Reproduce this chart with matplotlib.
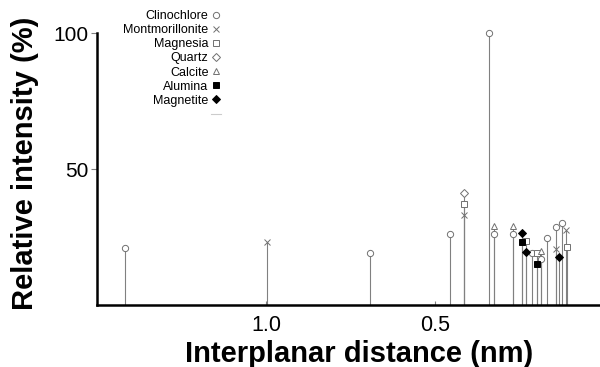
import matplotlib
matplotlib.use("Agg")
import matplotlib.pyplot as plt
from matplotlib.lines import Line2D
import numpy as np

plt.rcParams["font.family"] = ["Liberation Sans", "DejaVu Sans"]

# 讀取數據: 每種礦物的晶面間距 (nm) 與相對強度 (%)
clinochlore_d = [6.04, 0.619, 0.479, 0.431, 0.426, 0.406, 0.389, 0.381, 0.376, 0.368, 0.3635]
clinochlore_i = [21, 19, 26, 100, 26, 26, 19, 17, 24.5, 28.5, 30]
montmorillonite_d = [0.996, 0.460, 0.368, 0.3603]
montmorillonite_i = [23, 33, 20.5, 27.5]
magnesia_d = [0.460, 0.394, 0.384, 0.3596]
magnesia_i = [37, 23.5, 19, 21.5]
quartz_d = [0.460]
quartz_i = [41]
calcite_d = [0.426, 0.406, 0.381]
calcite_i = [29, 29, 20]
alumina_d = [0.398, 0.384]
alumina_i = [23, 15]
magnetite_d = [0.398, 0.394, 0.366]
magnetite_i = [26.5, 19.5, 17.5]

tick_d = [1.0, 0.5]
tick_labels = ["1.0", "0.5"]

minerals = [
    ("Clinochlore", clinochlore_d, clinochlore_i, "o", "white"),
    ("Montmorillonite", montmorillonite_d, montmorillonite_i, "x", "white"),
    ("Magnesia", magnesia_d, magnesia_i, "s", "white"),
    ("Quartz", quartz_d, quartz_i, "D", "white"),
    ("Calcite", calcite_d, calcite_i, "^", "white"),
    ("Alumina", alumina_d, alumina_i, "s", "black"),
    ("Magnetite", magnetite_d, magnetite_i, "D", "black"),
]

fig = plt.figure(figsize=(6, 3.67), dpi=100)
ax = fig.add_axes([0.162, 0.169, 0.838, 0.741])

handles = []
for name, d, inten, mk, face in minerals:
    q = 1 / np.array(d)  # x 軸用 1/d
    ax.vlines(q, 0, inten, color="#808080", lw=0.8, zorder=1)
    edge = "black" if face == "black" else "#707070"
    ms = 4.5 if mk != "x" else 5
    ax.plot(q, inten, ls="none", marker=mk, ms=ms, mfc=face, mec=edge,
            mew=0.7, zorder=3, clip_on=False)
    handles.append(Line2D([], [], ls="none", marker=mk, ms=ms, mfc=face,
                          mec=edge, mew=0.7, label=name))
handles.append(Line2D([], [], color="#cccccc", lw=0.8, label=" "))

ax.set_xlim(0, 2.976)
ax.set_ylim(0, 100)
ax.set_xticks(1 / np.array(tick_d))
ax.set_xticklabels(tick_labels)
ax.set_yticks([50, 100])
ax.tick_params(axis="x", direction="in", length=3, width=0.8, color="#808080",
               labelsize=15.5, pad=7)
ax.tick_params(axis="y", direction="out", length=4, width=0.8, color="#808080",
               labelsize=15, pad=2)
for s in ["top", "right"]:
    ax.spines[s].set_visible(False)
for s in ["left", "bottom"]:
    ax.spines[s].set_linewidth(1.8)

ax.set_xlabel("Interplanar distance (nm)", fontsize=21, fontweight="bold", labelpad=0)
ax.xaxis.set_label_coords(0.521, -0.13)
ax.xaxis.label.set_va("top")
ax.set_ylabel("Relative intensity (%)", fontsize=21, fontweight="bold")
ax.yaxis.set_label_coords(-0.115, 0.522)

fig.legend(handles=handles, loc="upper right", bbox_to_anchor=(221 / 600, 1 - 10 / 367),
           frameon=False, markerfirst=False, fontsize=9, labelspacing=0.17,
           handlelength=0.8, handletextpad=0.2, borderpad=0, borderaxespad=0)

fig.savefig("out.png", dpi=100)
